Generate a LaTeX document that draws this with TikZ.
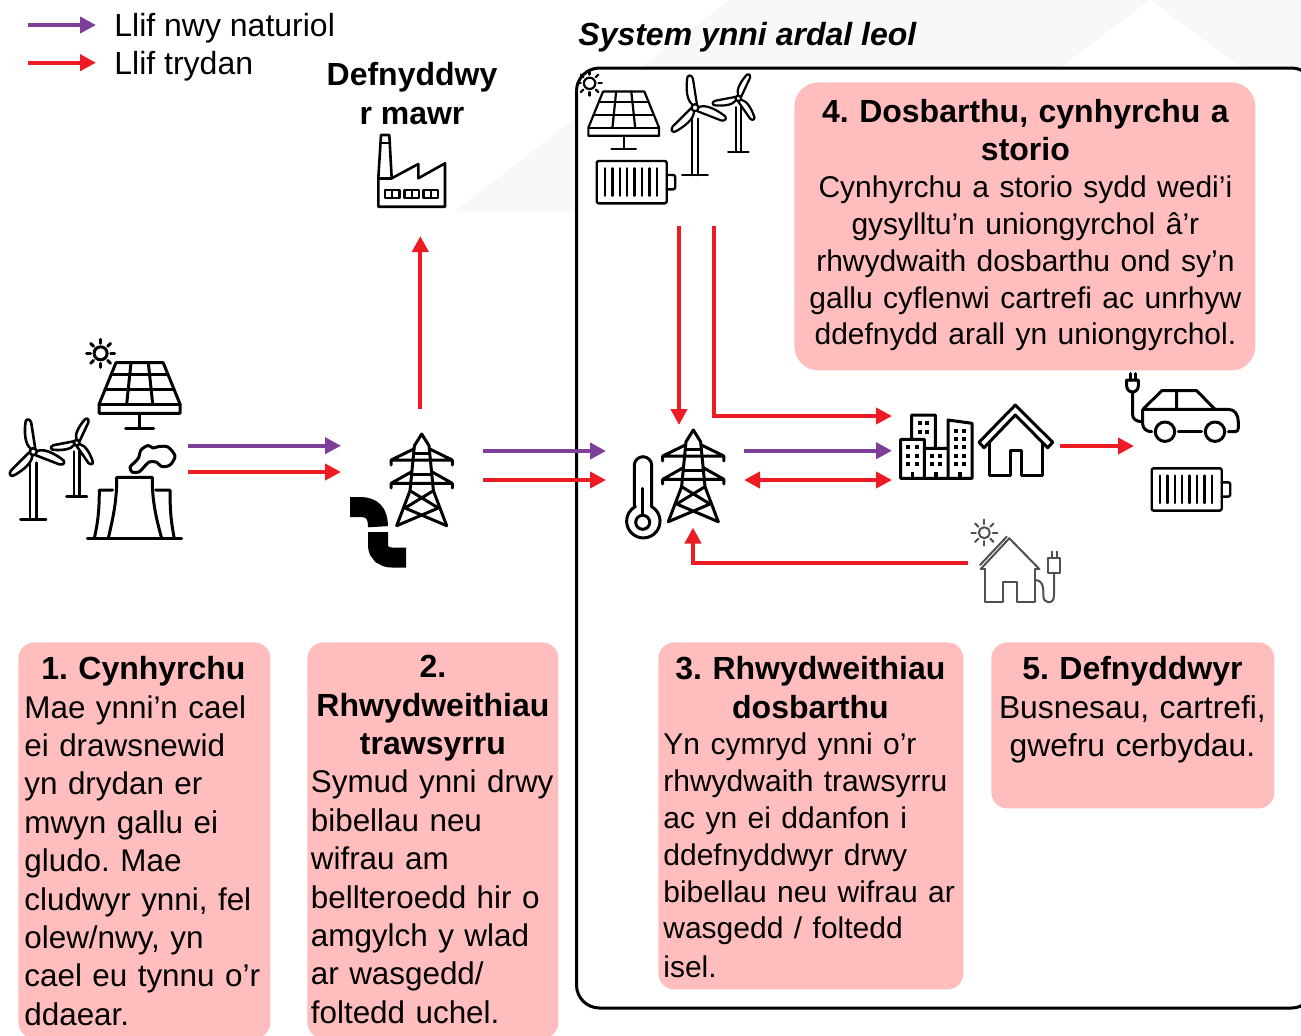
\documentclass[tikz,border=0pt]{standalone}
\usepackage{fontspec}
\setmainfont{Liberation Sans}
\usetikzlibrary{arrows.meta}
\definecolor{flowred}{RGB}{237,28,36}
\definecolor{flowpurple}{RGB}{125,63,152}
\definecolor{boxpink}{RGB}{255,189,189}
\definecolor{wmgrey}{RGB}{247,248,248}
\definecolor{prosgrey}{RGB}{80,80,80}
\newcommand{\headtxt}[1]{{\centering\fontsize{16pt}{19.2pt}\selectfont\bfseries #1\par}}
\newcommand{\tightbody}{\fontsize{15pt}{18.4pt}\selectfont}
\tikzset{
  flow/.style={line width=2pt,-{Triangle[length=8pt,width=8pt]}},
  flowboth/.style={line width=2pt,{Triangle[length=8pt,width=8pt]}-{Triangle[length=8pt,width=8pt]}},
  icon/.style={line width=1.5pt,line join=round,line cap=round},
  pinkbox/.style={fill=boxpink,rounded corners=8pt,anchor=north west,inner sep=0pt},
  boxtext/.style={font=\frenchspacing\fontsize{15.7pt}{19.2pt}\selectfont,inner sep=0pt,anchor=north west,align=left},
  plaintext/.style={font=\fontsize{16pt}{19.2pt}\selectfont,inner sep=0pt},
  pics/solar/.style={code={
    \draw (-23.6,-41.3) -- (23.6,-41.3) -- (40.4,0) -- (40.4,9.3) -- (-40.4,9.3) -- (-40.4,0) -- cycle;
    \draw (-40.4,0) -- (40.4,0) (-28.3,-29.7) -- (28.3,-29.7) (-34.4,-14.7) -- (34.4,-14.7);
    \draw (-8.6,-41.3) -- (-12.9,0) (8.7,-41.3) -- (13.1,0);
    \draw (0,9.3) -- (0,24) (-14,24) -- (14,24);
    \draw (-39,-50.7) circle (6.5);
    \foreach \ang in {0,45,...,315} {\draw[shift={(-39,-50.7)},rotate=\ang] (10,0) -- (14,0);}
  }},
  pics/turbine/.style={code={
    \draw (0,0) circle (3.5);
    \foreach \ang in {100,-20,226} {
      \draw[rotate=\ang+#1] (3.5,-2) .. controls (9,-7) and (20,-5.5) .. (29,-3) .. controls (34,-2.5) and (34,2.5) .. (29,3) -- (3.5,2.5);
    }
    \draw (-3.2,11) -- (-3.2,67.6) (3.2,11) -- (3.2,67.6) (-12.8,67.6) -- (12.8,67.6);
  }},
  pics/pylon/.style={code={
    \draw (-25,91.7) -- (-11.7,56.7) -- (-7.3,11.7) -- (0,0) -- (7.3,11.7) -- (11.7,56.7) -- (25,91.7);
    \draw (-30.6,31) -- (-30.6,26) -- (30.6,26) -- (30.6,31) (-30.6,26) -- (-8,15) (30.6,26) -- (8,15);
    \draw (-30.6,54) -- (-30.6,49.3) -- (30.6,49.3) -- (30.6,54) (-30.6,49.3) -- (-10,37.7) (30.6,49.3) -- (10,37.7);
    \draw (-8,19) -- (8,19) (-10,40) -- (10,40);
    \draw (-11.7,56.7) -- (16.7,74) -- (-25,91.7) (11.7,56.7) -- (-16.7,74) -- (25,91.7);
  }},
  pics/battery/.style={code={
    \draw[rounded corners=1pt] (0,0) rectangle (70,42.3);
    \draw[rounded corners=1pt] (70,14) -- (78.5,14) -- (78.5,28.3) -- (70,28.3);
    \foreach \i in {0,...,7} {\draw (8.3+\i*7.4,7.3) -- (8.3+\i*7.4,34.7);}
  }}
}
\begin{document}
\begin{tikzpicture}[x=0.5pt,y=-0.5pt]
\useasboundingbox (0,0) rectangle (1301,1035);
\clip (0,0) rectangle (1301,1035);
\fill[wmgrey] (455,211) -- (729,0) -- (1301,0) -- (1301,211) -- cycle;
\fill[white] (1150,0) -- (1242,68) -- (1060,68) -- cycle;

\node[draw,fill=white,line width=1.5pt,rounded corners=11.5pt,anchor=north west,inner sep=0pt,minimum width=369pt,minimum height=470pt] (sysbox) at (575,66.5) {};
\node[plaintext,anchor=west,font=\fontsize{16pt}{19.2pt}\selectfont\bfseries\itshape] (systitle) at (578,37) {System ynni ardal leol};

\node[plaintext,anchor=west] (legnwy) at (114,28) {Llif nwy naturiol};
\node[plaintext,anchor=west] (legtrydan) at (114,66) {Llif trydan};
\node[plaintext,anchor=north,align=center,font=\fontsize{16pt}{19.5pt}\selectfont\bfseries] (bigusers) at (412,62) {Defnyddwy\\r mawr};

\node[pinkbox,minimum width=126pt,minimum height=198pt] (boxcyn) at (18,642) {};
\node[pinkbox,minimum width=125.5pt,minimum height=198pt] (boxtraws) at (307,642) {};
\node[pinkbox,minimum width=152.5pt,minimum height=173.5pt] (boxdosb) at (658,642) {};
\node[pinkbox,minimum width=141.5pt,minimum height=83pt] (boxdefn) at (991,642) {};
\node[pinkbox,rounded corners=12pt,minimum width=230.5pt,minimum height=144pt] (boxstorio) at (794,82) {};

\node[boxtext,text width=119pt] (txtcyn) at (24,656) {\headtxt{1. Cynhyrchu}Mae ynni’n cael\\ei drawsnewid\\yn drydan er\\mwyn gallu ei\\gludo. Mae\\cludwyr ynni, fel\\olew/nwy, yn\\cael eu tynnu o’r\\ddaear.};
\node[boxtext,text width=122pt] (txttraws) at (310.5,655) {\headtxt{2.\\Rhwydweithiau\\trawsyrru}Symud ynni drwy\\bibellau neu\\wifrau am\\bellteroedd hir o\\amgylch y wlad\\ar wasgedd/\\foltedd uchel.};
\node[boxtext,text width=147pt] (txtdosb) at (663,656) {\headtxt{3. Rhwydweithiau\\dosbarthu}\tightbody Yn cymryd ynni o’r\\rhwydwaith trawsyrru\\ac yn ei ddanfon i\\ddefnyddwyr drwy\\bibellau neu wifrau ar\\wasgedd / foltedd\\isel.};
\node[boxtext,text width=135pt] (txtdefn) at (997,656) {\headtxt{5. Defnyddwyr}{\centering\fontsize{15.9pt}{19.2pt}\selectfont Busnesau, cartrefi,\\gwefru cerbydau.\par}};
\node[boxtext,text width=224pt] (txtstorio) at (801,99) {\headtxt{4. Dosbarthu, cynhyrchu a\\storio}{\centering\tightbody Cynhyrchu a storio sydd wedi’i\\gysylltu’n uniongyrchol â’r\\rhwydwaith dosbarthu ond sy’n\\gallu cyflenwi cartrefi ac unrhyw\\ddefnydd arall yn uniongyrchol.\par}};

\begin{scope}[icon]
\pic at (139.6,404) {solar};
\pic[line width=1.1pt,scale=0.875] at (623.7,127.7) {solar};
\pic[line width=1.3pt] at (33.3,451.7) {turbine=0};
\pic[line width=1.3pt,scale=0.8] at (76.7,442.7) {turbine=-34};
\pic[line width=1.1pt] at (695,107.7) {turbine=0};
\pic[line width=1.1pt,scale=0.8] at (738.3,98.3) {turbine=-34};
\pic at (421.7,434) {pylon};
\pic at (693.3,430) {pylon};
\pic[line width=1.2pt] at (596.7,161) {battery};
\pic[line width=1.2pt] at (1151.7,468.3) {battery};

\draw (116.7,477.3) -- (152.3,477.3) (116.7,477.3) .. controls (117,500) and (113,518) .. (108.3,538.3) (152.3,477.3) .. controls (152,500) and (156,518) .. (161.7,538.3);
\draw (112.7,490) -- (99.3,490) .. controls (99.3,510) and (98,522) .. (94.3,538.3) (155.7,490) -- (170,490) .. controls (170,510) and (171,522) .. (174.3,538.3);
\draw (87.3,538.3) -- (181.7,538.3);
\draw plot[smooth cycle] coordinates {(130,467) (134,463) (138.5,458) (141,450) (148,445.5) (153,448) (159,446.5) (168,447) (175,456) (170,465) (162,466.5) (156,462) (149,462) (144,467) (139,472) (132,472)};

\draw[line width=10pt,line cap=butt,line join=miter] (350,507) -- (360,507) .. controls (372,507) and (378,513) .. (378,526.7);
\draw[line width=10pt,line cap=butt,line join=miter] (378,532) -- (378,545) .. controls (378,553) and (384,557.5) .. (392,557.5) -- (406,557.5);

\draw[line width=1.3pt] (381,135) -- (389.3,135) -- (391.7,178.3) -- (418.3,164) -- (418.3,178.3) -- (445,163.3) -- (445,206.7) -- (378.3,206.7) -- (378.3,178.3) -- cycle;
\draw[line width=1.3pt] (380.5,143) -- (389.8,143) (378.3,178.3) -- (391.7,178.3);
\foreach \wx in {385,404.5,423.5} {\draw[line width=1.1pt] (\wx,190) rectangle (\wx+14.5,198.3) (\wx+7.2,190) -- (\wx+7.2,198.3);}

\draw (634.3,506.7) -- (634.3,465.4) arc (180:360:8.7) -- (651.7,506.7) arc (-60:242:16.7);
\draw (642.7,522.3) circle (7);
\draw (642.7,488.3) -- (642.7,515);

\draw (900.7,478.3) -- (900.7,439.3) -- (924.3,439.3) -- (924.3,478.3) (911.7,439.3) -- (911.7,415) -- (935.3,415) -- (935.3,448.3) (924.3,448.3) -- (948,448.3) (948,478.3) -- (948,420) -- (972,423.3) -- (972,478.3) -- cycle -- (900.7,478.3);
\foreach \wx in {908.3,916.7} {\foreach \wy in {447.3,456,464.3} {\fill (\wx-2,\wy-2) rectangle (\wx+2,\wy+2);}}
\foreach \wx in {920,927.3} {\foreach \wy in {423.3,432.3} {\fill (\wx-2,\wy-2) rectangle (\wx+2,\wy+2);}}
\foreach \wx in {932,940} {\foreach \wy in {456,464.3} {\fill (\wx-2,\wy-2) rectangle (\wx+2,\wy+2);}}
\foreach \wx in {955.7,964} {\foreach \wy in {431,439.3,447.3,456,464.3} {\fill (\wx-2,\wy-2) rectangle (\wx+2,\wy+2);}}
\foreach \wx in {912.3,936,960} {\fill (\wx-1.7,472) rectangle (\wx+1.7,478.3);}

\draw (1015.3,405) -- (1052.7,442.3) -- (1047.7,447.7) -- (1015.3,415) -- (984,447.7) -- (979,442.3) -- cycle;
\draw (989,443) -- (989,475) -- (1010,475) -- (1010,450.7) -- (1021.7,450.7) -- (1021.7,475) -- (1042.7,475) -- (1042.7,443);

\draw (1151.7,431.7) .. controls (1146,431.7) and (1142.7,428) .. (1142.7,424) -- (1142.7,409.3) -- (1228.3,409.3) .. controls (1235,409.3) and (1238.3,415) .. (1238.3,422) -- (1238.3,428) .. controls (1238.3,430.5) and (1237,431.7) .. (1235,431.7) -- (1228.3,431.7);
\draw (1178.3,431.7) -- (1201.7,431.7);
\draw (1165,431.7) circle (9.7) (1215,431.7) circle (9.7);
\draw (1143.3,409) -- (1161.7,390.7) -- (1196.7,390.7) -- (1215,409.3) (1176.7,390.7) -- (1176.7,409.3);
\draw (1126.7,380) -- (1138.3,380) -- (1138.3,386) .. controls (1138.3,390) and (1135,392) .. (1132.5,392) .. controls (1130,392) and (1126.7,390) .. (1126.7,386) -- cycle;
\draw (1130,373.5) -- (1130,380) (1135.3,373.5) -- (1135.3,380);
\draw (1132.5,392) -- (1132.5,414) .. controls (1132.5,419) and (1136,421.7) .. (1142.7,421.7);
\end{scope}

\begin{scope}[icon,line width=1pt,prosgrey]
\draw (984.3,532.7) circle (5.5);
\foreach \ang in {0,45,...,315} {\draw[shift={(984.3,532.7)},rotate=\ang] (8.5,0) -- (13,0);}
\draw (980.7,569) -- (1009.3,538.3) -- (1039.3,569);
\draw (980.7,569) -- (985,569) (1035,569) -- (1039.3,569);
\draw (980,565) -- (1006.7,536.7);
\draw (985,569) -- (985,602.3) -- (1003.3,602.3) -- (1003.3,581.7) -- (1016.7,581.7) -- (1016.7,602.3) -- (1035,602.3) -- (1035,569);
\draw (1035,580) .. controls (1041,580) and (1043.3,584) .. (1043.3,592) -- (1043.3,595) .. controls (1043.3,600) and (1045.5,602.3) .. (1048.5,602.3) .. controls (1052,602.3) and (1054,600) .. (1054,595) -- (1054,573.3);
\draw (1048.3,557.7) rectangle (1060,573.3);
\draw (1051.7,551.7) -- (1051.7,557.7) (1056.7,551.7) -- (1056.7,557.7);
\end{scope}

\coordinate (legnwyS) at (28,25);
\coordinate (legnwyE) at (96,25);
\coordinate (legtrydanS) at (28,62.7);
\coordinate (legtrydanE) at (96,62.7);
\coordinate (genpurple) at (188,445.7);
\coordinate (linkpurple) at (341,445.7);
\coordinate (genred) at (188,472);
\coordinate (linkred) at (341,472);
\coordinate (pylontop) at (420.3,409);
\coordinate (factorybase) at (420.3,236);
\coordinate (trpurple) at (483,451);
\coordinate (disinpurple) at (606,451);
\coordinate (trred) at (483,480);
\coordinate (disinred) at (606,480);
\coordinate (localA) at (679,226);
\coordinate (pylonB) at (679,425);
\coordinate (localB) at (713.7,226);
\coordinate (cityA) at (892,416);
\coordinate (dispurple) at (744,450.7);
\coordinate (cityB) at (892,450.7);
\coordinate (disred) at (744,480);
\coordinate (cityC) at (892,480);
\coordinate (homeR) at (1059.5,446);
\coordinate (carL) at (1134,446);
\coordinate (prosumer) at (968,562.7);
\coordinate (pylonC) at (693,527.5);

\draw[flow,flowpurple] (legnwyS) -- (legnwyE);
\draw[flow,flowred] (legtrydanS) -- (legtrydanE);
\draw[flow,flowpurple] (genpurple) -- (linkpurple);
\draw[flow,flowred] (genred) -- (linkred);
\draw[flow,flowred] (pylontop) -- (factorybase);
\draw[flow,flowpurple] (trpurple) -- (disinpurple);
\draw[flow,flowred] (trred) -- (disinred);
\draw[flow,flowred] (localA) -- (pylonB);
\draw[flow,flowred] (localB) |- (cityA);
\draw[flow,flowpurple] (dispurple) -- (cityB);
\draw[flowboth,flowred] (disred) -- (cityC);
\draw[flow,flowred] (homeR) -- (carL);
\draw[flow,flowred] (prosumer) -| (pylonC);
\end{tikzpicture}
\end{document}
